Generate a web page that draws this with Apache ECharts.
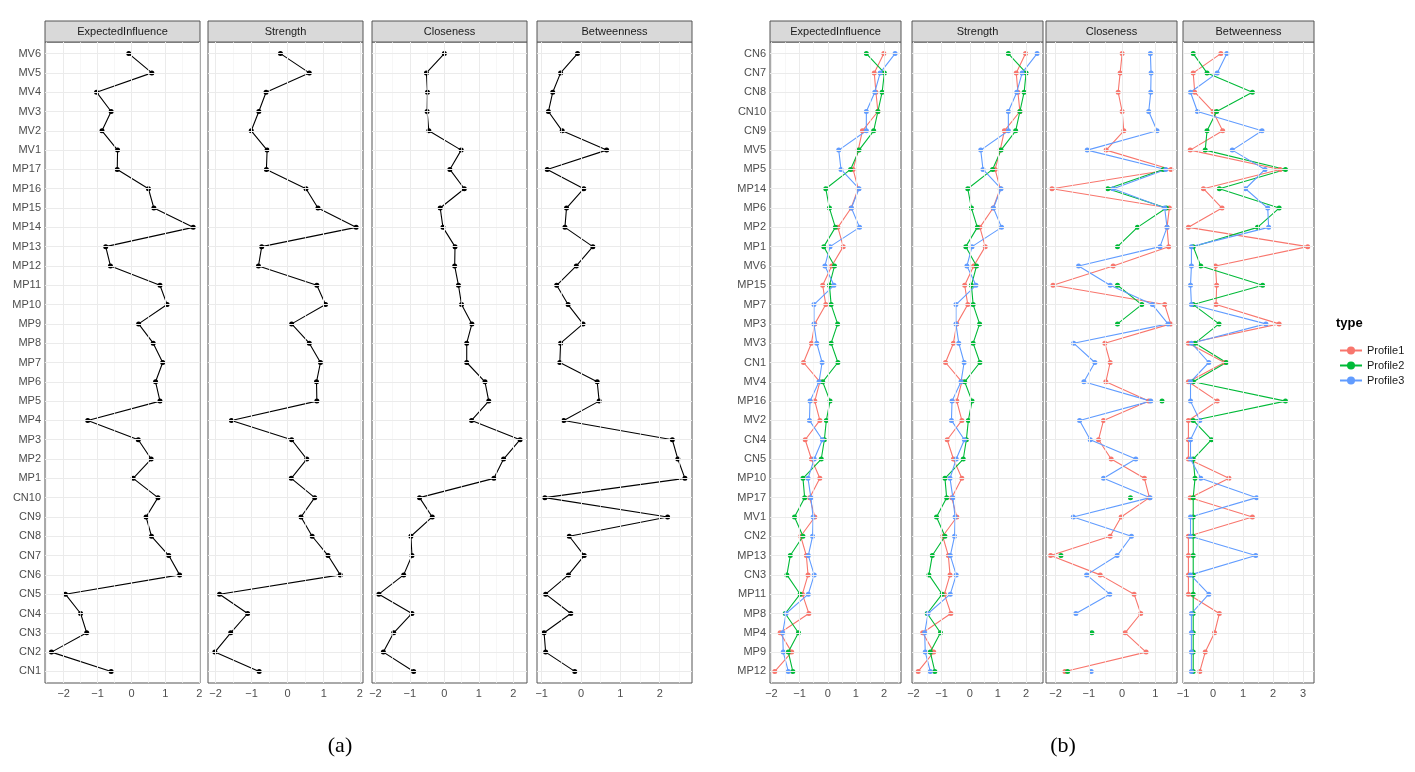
<!DOCTYPE html>
<html><head><meta charset="utf-8">
<script src="https://cdn.jsdelivr.net/npm/echarts@6/dist/echarts.min.js"></script>
<style>html,body{margin:0;padding:0;background:#fff}#c{width:1415px;height:772px}</style>
</head><body><div id="c"></div>
<script>
// ---- data (top-to-bottom order) ----
const catsA = ['MV6','MV5','MV4','MV3','MV2','MV1','MP17','MP16','MP15','MP14','MP13','MP12','MP11','MP10','MP9','MP8','MP7','MP6','MP5','MP4','MP3','MP2','MP1','CN10','CN9','CN8','CN7','CN6','CN5','CN4','CN3','CN2','CN1'];
const aEI = [-0.08,0.6,-1.03,-0.6,-0.87,-0.41,-0.42,0.5,0.66,1.82,-0.76,-0.62,0.84,1.05,0.21,0.64,0.92,0.71,0.84,-1.29,0.2,0.58,0.05,0.78,0.43,0.59,1.1,1.42,-1.95,-1.5,-1.32,-2.36,-0.6];
const aStr = [-0.2,0.6,-0.6,-0.8,-1.01,-0.57,-0.59,0.51,0.84,1.9,-0.72,-0.81,0.81,1.05,0.11,0.6,0.91,0.8,0.81,-1.56,0.11,0.53,0.1,0.75,0.37,0.68,1.12,1.46,-1.89,-1.11,-1.58,-2.02,-0.79];
const aClo = [0,-0.52,-0.49,-0.5,-0.45,0.49,0.16,0.58,-0.12,-0.04,0.31,0.3,0.41,0.5,0.8,0.65,0.65,1.18,1.29,0.79,2.2,1.72,1.44,-0.72,-0.35,-0.97,-0.94,-1.18,-1.9,-0.94,-1.47,-1.77,-0.89];
const aBet = [-0.09,-0.52,-0.72,-0.83,-0.48,0.65,-0.86,0.07,-0.37,-0.41,0.3,-0.12,-0.62,-0.33,0.05,-0.52,-0.54,0.41,0.46,-0.44,2.32,2.46,2.64,-0.92,2.2,-0.3,0.08,-0.32,-0.9,-0.26,-0.94,-0.9,-0.16];

const catsB = ['CN6','CN7','CN8','CN10','CN9','MV5','MP5','MP14','MP6','MP2','MP1','MV6','MP15','MP7','MP3','MV3','CN1','MV4','MP16','MV2','CN4','CN5','MP10','MP17','MV1','CN2','MP13','CN3','MP11','MP8','MP4','MP9','MP12'];
const bEI1 = [1.99,1.65,1.71,1.78,1.23,1.08,0.9,1.08,0.83,0.36,0.55,0.14,-0.18,-0.07,-0.46,-0.58,-0.86,-0.28,-0.46,-0.28,-0.8,-0.58,-0.28,-0.64,-0.46,-0.96,-0.76,-0.7,-0.9,-0.67,-1.69,-1.28,-1.88];
const bEI2 = [1.37,2.01,1.93,1.78,1.63,1.11,0.81,-0.07,0.06,0.27,-0.14,0.24,0.06,0.12,0.35,0.12,0.36,-0.18,0.08,-0.05,-0.12,-0.23,-0.88,-0.82,-1.18,-0.88,-1.33,-1.45,-0.98,-1.51,-1.04,-1.4,-1.24];
const bEI3 = [2.39,1.86,1.67,1.37,1.37,0.39,0.47,1.11,0.84,1.13,0.08,-0.1,0.22,-0.49,-0.49,-0.39,-0.2,-0.31,-0.63,-0.65,-0.19,-0.48,-0.7,-0.6,-0.52,-0.54,-0.69,-0.48,-0.69,-1.48,-1.6,-1.58,-1.4];
const bStr1 = [1.98,1.65,1.71,1.78,1.23,1.08,0.9,1.08,0.83,0.36,0.55,0.14,-0.18,-0.07,-0.46,-0.58,-0.86,-0.28,-0.46,-0.28,-0.8,-0.58,-0.28,-0.64,-0.46,-0.96,-0.76,-0.7,-0.9,-0.67,-1.67,-1.28,-1.83];
const bStr2 = [1.37,2.0,1.93,1.78,1.63,1.11,0.81,-0.07,0.06,0.27,-0.14,0.24,0.06,0.12,0.35,0.12,0.36,-0.18,0.08,-0.05,-0.12,-0.23,-0.88,-0.82,-1.18,-0.88,-1.33,-1.45,-0.98,-1.51,-1.04,-1.4,-1.24];
const bStr3 = [2.39,1.86,1.67,1.37,1.37,0.39,0.47,1.11,0.84,1.13,0.08,-0.1,0.22,-0.49,-0.49,-0.39,-0.2,-0.31,-0.63,-0.65,-0.19,-0.48,-0.7,-0.6,-0.52,-0.54,-0.69,-0.48,-0.69,-1.48,-1.6,-1.58,-1.4];
const bClo1 = [0,-0.06,-0.12,0,0.05,-0.48,1.47,-2.11,1.42,1.35,1.4,-0.27,-2.08,1.28,1.46,-0.52,-0.36,-0.49,0.8,-0.56,-0.71,-0.33,0.67,0.82,-0.03,-0.36,-2.15,-0.66,0.36,0.56,0.09,0.72,-1.72];
const bClo2 = [null,null,null,null,null,null,1.24,-0.43,1.33,0.46,-0.14,null,-0.14,0.59,-0.14,null,null,null,1.2,null,null,null,null,0.25,null,null,-1.84,null,null,null,-0.91,null,-1.64];
const bClo3 = [0.85,0.87,0.86,0.8,1.05,-1.05,1.31,-0.27,1.28,1.35,1.14,-1.31,-0.36,0.91,1.38,-1.46,-0.82,-1.15,0.86,-1.28,-0.96,0.41,-0.56,0.84,-1.47,0.28,-0.15,-1.07,-0.37,-1.39,null,null,-0.93];
const bBet1 = [0.26,-0.66,-0.61,0.0,0.32,-0.76,2.23,-0.32,0.3,-0.82,3.15,0.08,0.12,0.1,2.2,-0.82,0.38,-0.82,0.14,-0.82,-0.82,-0.82,0.53,-0.76,1.31,-0.82,-0.82,-0.82,-0.82,0.21,0.05,-0.26,-0.44];
const bBet2 = [-0.66,-0.2,1.31,0.12,-0.2,-0.26,2.41,0.21,2.2,1.48,-0.66,-0.41,1.65,-0.66,0.2,-0.6,0.44,-0.66,2.41,-0.66,-0.05,-0.66,-0.6,-0.66,-0.66,-0.66,-0.66,-0.66,-0.66,-0.66,-0.66,-0.66,-0.66];
const bBet3 = [0.46,0.14,-0.75,-0.52,1.63,0.64,1.73,1.08,1.82,1.85,-0.72,-0.72,-0.75,-0.72,1.76,-0.72,-0.14,-0.75,-0.75,-0.44,-0.75,-0.75,-0.41,1.45,-0.75,-0.75,1.42,-0.75,-0.14,-0.72,-0.72,-0.72,-0.72];

const facetNames = ['ExpectedInfluence','Strength','Closeness','Betweenness'];
const profileNames = ['Profile1','Profile2','Profile3'];
const xTicksA = [[-2,-1,0,1,2],[-2,-1,0,1,2],[-2,-1,0,1,2],[-1,0,1,2]];
const xTicksB = [[-2,-1,0,1,2],[-2,-1,0,1,2],[-2,-1,0,1],[-1,0,1,2,3]];
// ---- layout ----
const rangesA = [[-2.55,2.02],[-2.21,2.09],[-2.1,2.4],[-1.12,2.82]];
const rangesB = [[-2.05,2.6],[-2.05,2.6],[-2.29,1.65],[-1.0,3.36]];
const leftA = [45,208,372,537], wA = 155;
const leftB = [770,912,1046,1183], wB = 131;
const gTop = 42, gH = 641;
const colors = ['#F8766D','#00BA38','#619CFF'];

const grids=[], xAxes=[], yAxes=[], series=[], graphics=[];
function fmt(v){return String(v).replace('-','\u2212');}
function addFacet(left,w,range,ticks,cats,first,title,lines){
  const gi = grids.length;
  grids.push({left:left,top:gTop,width:w,height:gH,show:true,borderColor:'#555',borderWidth:1,backgroundColor:'#fff'});
  xAxes.push({type:'value',gridIndex:gi,min:range[0],max:range[1],
    axisLine:{show:false},splitLine:{show:false},
    axisTick:{show:true,customValues:ticks,length:3,lineStyle:{color:'#333'}},
    axisLabel:{customValues:ticks,formatter:fmt,color:'#4d4d4d',fontSize:11,fontFamily:'Liberation Sans',margin:5}});
  const idx = cats.map((c,i)=>i);
  yAxes.push({type:'value',gridIndex:gi,inverse:true,min:-0.6,max:cats.length-0.4,
    axisLine:{show:false},splitLine:{show:false},
    axisTick:{show:first,customValues:idx,length:3,lineStyle:{color:'#333'}},
    axisLabel:{show:first,customValues:idx,formatter:v=>cats[Math.round(v)],color:'#4d4d4d',fontSize:11,fontFamily:'Liberation Sans',margin:4}});
  const ml=[];
  for(let v=Math.ceil(range[0]*2)/2; v<=range[1]; v+=0.5){
    const major = Math.abs(v-Math.round(v))<1e-9;
    ml.push({xAxis:v,lineStyle:{color:major?'#ebebeb':'#f4f4f4',width:major?1:0.7,type:'solid'}});
  }
  idx.forEach(i=>ml.push({yAxis:i,lineStyle:{color:'#ebebeb',width:1,type:'solid'}}));
  series.push({type:'line',xAxisIndex:gi,yAxisIndex:gi,data:[],silent:true,
    markLine:{silent:true,symbol:['none','none'],label:{show:false},animation:false,data:ml}});
  lines.forEach(L=>{
    series.push({type:'line',name:L.name,xAxisIndex:gi,yAxisIndex:gi,
      data:L.vals.map((v,i)=>[v,i]),connectNulls:false,symbol:'circle',symbolSize:5,
      lineStyle:{color:L.color,width:1.1},itemStyle:{color:L.color},z:3,animation:false});
  });
  graphics.push({type:'rect',shape:{x:left,y:gTop-21,width:w,height:21},style:{fill:'#d9d9d9',stroke:'#555',lineWidth:1}});
  graphics.push({type:'text',x:left+w/2,y:gTop-10.5,style:{text:title,fill:'#1a1a1a',font:'11px "Liberation Sans"',align:'center',verticalAlign:'middle'}});
}
const aData=[aEI,aStr,aClo,aBet];
for(let f=0;f<4;f++) addFacet(leftA[f],wA,rangesA[f],xTicksA[f],catsA,f===0,facetNames[f],[{name:'a',vals:aData[f],color:'#000'}]);
const bData=[[bEI1,bEI2,bEI3],[bStr1,bStr2,bStr3],[bClo1,bClo2,bClo3],[bBet1,bBet2,bBet3]];
for(let f=0;f<4;f++) addFacet(leftB[f],wB,rangesB[f],xTicksB[f],catsB,f===0,facetNames[f],
  bData[f].map((v,k)=>({name:profileNames[k],vals:v,color:colors[k]})));

graphics.push({type:'text',x:1336,y:323,style:{text:'type',fill:'#000',font:'bold 13px "Liberation Sans"',verticalAlign:'middle'}});
graphics.push({type:'text',x:340,y:746,style:{text:'(a)',fill:'#000',font:'22px "Liberation Serif"',align:'center',verticalAlign:'middle'}});
graphics.push({type:'text',x:1063,y:746,style:{text:'(b)',fill:'#000',font:'22px "Liberation Serif"',align:'center',verticalAlign:'middle'}});

const chart = echarts.init(document.getElementById('c'));
chart.setOption({
  animation:false,
  grid:grids, xAxis:xAxes, yAxis:yAxes, series:series, graphic:graphics,
  legend:{data:profileNames,orient:'vertical',left:1334,top:340,itemGap:4,itemWidth:22,itemHeight:10,
    textStyle:{fontSize:11,color:'#1a1a1a',fontFamily:'Liberation Sans'},selectedMode:false}
});
</script></body></html>
